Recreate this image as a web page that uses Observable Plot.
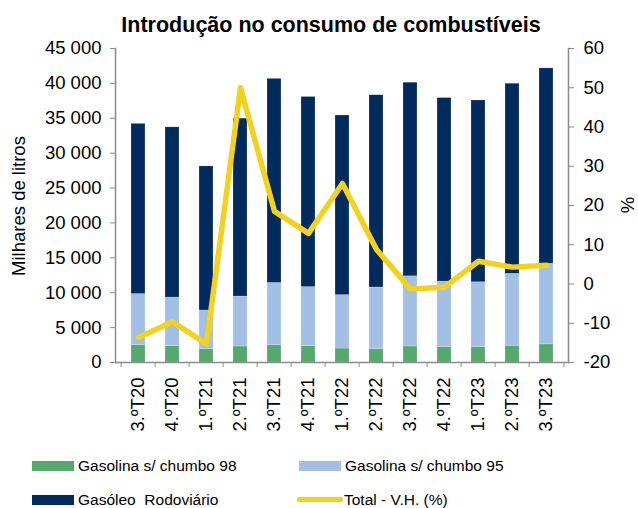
<!DOCTYPE html>
<html><head><meta charset="utf-8">
<script src="https://cdn.jsdelivr.net/npm/d3@7"></script>
<script src="https://cdn.jsdelivr.net/npm/@observablehq/plot@0.6"></script>
<style>
body{margin:0;background:#fff;font-family:"Liberation Sans",Arial,sans-serif;}
#wrap{position:relative;width:638px;height:508px;overflow:hidden;background:#fff}
#title{position:absolute;left:0;width:662px;top:12.5px;text-align:center;font-weight:bold;font-size:21.5px;line-height:24px;color:#000}
#chart{position:absolute;left:0;top:28px}
.sw{position:absolute;width:42px;height:10px}
.lb{position:absolute;font-size:15.5px;line-height:20px;color:#000;white-space:pre}
.rot{position:absolute;font-size:18.5px;line-height:1;color:#000;white-space:pre;transform:translate(-50%,-50%) rotate(-90deg)}
</style></head>
<body>
<div id="wrap">
  <div id="chart"></div>
  <div id="title">Introdução no consumo de combustíveis</div>
  <div id="legend"></div>
</div>
<script>
const quarters = ["3.ºT20","4.ºT20","1.ºT21","2.ºT21","3.ºT21","4.ºT21","1.ºT22","2.ºT22","3.ºT22","4.ºT22","1.ºT23","2.ºT23","3.ºT23"];
const seriesNames = ["Gasolina s/ chumbo 98","Gasolina s/ chumbo 95","Gasóleo  Rodoviário"];
const lineName = "Total - V.H. (%)";
const leftLabel = "Milhares de litros";
const rightLabel = "%";
const gas98 = [2500,2350,1900,2300,2500,2350,2000,1900,2300,2200,2200,2400,2600];
const gas95 = [7300,6950,5550,7150,8900,8450,7650,8850,10050,9400,9300,10300,11550];
const gasoleo = [24400,24400,20650,25500,29250,27250,25750,27550,27750,26300,26050,27250,28000];
const totalVH = [-13.6,-9.6,-15.3,50.0,18.5,12.9,25.6,8.8,-1.3,-0.8,5.8,4.3,4.8];
const leftTicks = [0,5000,10000,15000,20000,25000,30000,35000,40000,45000];
const rightTicks = [-20,-10,0,10,20,30,40,50,60];
const colors = ["#57a86f","#a2bfe4","#002b5c"];
const lineColor = "#f2d21f";
const axisGrey = "#8c8c8c";

const leftMax = 45000, rightMin = -20, rightMax = 60;
const toLeft = v => (v - rightMin) / (rightMax - rightMin) * leftMax;
const fromLeft = y => y / leftMax * (rightMax - rightMin) + rightMin;

const table = [];
[gas98, gas95, gasoleo].forEach((arr, s) => arr.forEach((v, i) => table.push({q: quarters[i], s: seriesNames[s], v})));

const W = 638, H = 412, ML = 115, MR = 70, MT = 20, MB = 78;
const step = (W - ML - MR) / quarters.length;
const fmt = d => d3.format(",")(d).replace(/,/g, " ");
const FS = 18.5;

const chart = Plot.plot({
  width: W, height: H,
  marginLeft: ML, marginRight: MR, marginTop: MT, marginBottom: MB,
  style: {fontFamily: "'Liberation Sans', Arial, sans-serif", fontSize: FS + "px", color: "#000", background: "transparent", overflow: "visible"},
  x: {domain: quarters, paddingInner: 0.6, paddingOuter: 0.3, axis: null},
  y: {domain: [0, leftMax], axis: null},
  color: {domain: seriesNames, range: colors},
  marks: [
    Plot.barY(table, {x: "q", y: "v", fill: "s", stroke: "#ffffff", strokeOpacity: 0.35, strokeWidth: 0.6}),
    Plot.line(quarters, {x: d => d, y: (d, i) => toLeft(totalVH[i]), stroke: lineColor, strokeWidth: 5.5, strokeLinejoin: "round", strokeLinecap: "round"}),
    Plot.frame({anchor: "left", stroke: axisGrey, strokeWidth: 1.5}),
    Plot.frame({anchor: "right", stroke: axisGrey, strokeWidth: 1.5}),
    Plot.frame({anchor: "bottom", stroke: axisGrey, strokeWidth: 1.5}),
    Plot.axisY(leftTicks, {anchor: "left", tickFormat: fmt, tickSize: 5, tickPadding: 9, stroke: axisGrey, fill: "#000", fontSize: FS, label: null}),
    Plot.axisY(rightTicks.map(toLeft), {anchor: "right", tickFormat: d => String(Math.round(fromLeft(d))), tickSize: 5, tickPadding: 10, stroke: axisGrey, fill: "#000", fontSize: FS, label: null}),
    Plot.axisX(quarters, {anchor: "bottom", tickSize: 0, tickPadding: 15, tickRotate: -90, fill: "#000", fontSize: FS, label: null}),
    Plot.axisX(quarters, {anchor: "bottom", text: null, tickSize: 5, dx: -step / 2, stroke: axisGrey, label: null}),
    Plot.axisX(quarters.slice(-1), {anchor: "bottom", text: null, tickSize: 5, dx: step / 2, stroke: axisGrey, label: null})
  ]
});
document.getElementById("chart").appendChild(chart);

const wrap = document.getElementById("wrap");
[[leftLabel, 18.6, 206], [rightLabel, 627.5, 205]].forEach(([t, cx, cy]) => {
  const d = document.createElement("div");
  d.className = "rot";
  d.textContent = t;
  d.style.left = cx + "px";
  d.style.top = cy + "px";
  wrap.appendChild(d);
});

const legend = document.getElementById("legend");
const items = [
  {name: seriesNames[0], color: colors[0], x: 32, y: 466, type: "bar"},
  {name: seriesNames[1], color: colors[1], x: 299, y: 466, type: "bar"},
  {name: seriesNames[2], color: colors[2], x: 32, y: 499.5, type: "bar"},
  {name: lineName, color: lineColor, x: 297, y: 499.5, type: "line"}
];
items.forEach(it => {
  const sw = document.createElement("div");
  sw.className = "sw";
  sw.style.background = it.color;
  if (it.type === "line") {
    sw.style.width = "46px"; sw.style.height = "5px"; sw.style.borderRadius = "3px";
    sw.style.left = it.x + "px"; sw.style.top = (it.y - 2.5) + "px";
  } else {
    sw.style.left = it.x + "px"; sw.style.top = (it.y - 5) + "px";
  }
  legend.appendChild(sw);
  const lb = document.createElement("div");
  lb.className = "lb";
  lb.textContent = it.name;
  lb.style.left = (it.x + (it.type === "line" ? 47 : 46)) + "px";
  lb.style.top = (it.y - 10) + "px";
  legend.appendChild(lb);
});
</script>
</body></html>
